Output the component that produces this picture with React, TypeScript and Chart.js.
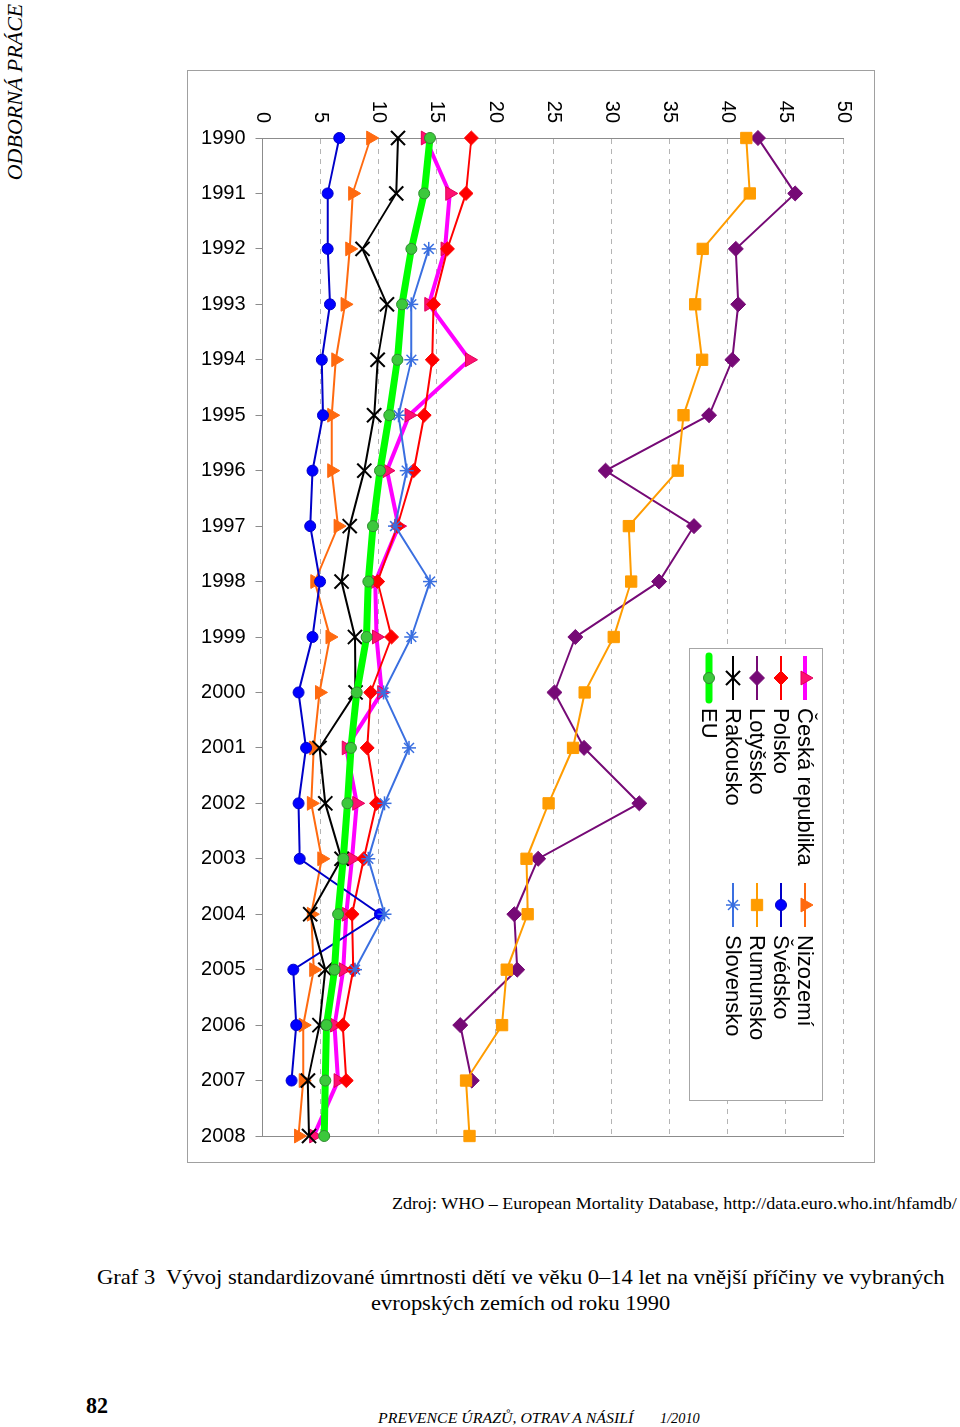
import React, { useEffect, useLayoutEffect, useRef, useState } from 'react';
import { Chart, registerables } from 'chart.js';
import { drawPoint } from 'chart.js/helpers';

Chart.register(...registerables);

// ---------- DATA ----------
const years = ['1990', '1991', '1992', '1993', '1994', '1995', '1996', '1997', '1998', '1999',
  '2000', '2001', '2002', '2003', '2004', '2005', '2006', '2007', '2008'];

const ceskaRepublika = [14.0, 16.1, 15.7, 14.3, 17.8, 12.6, 10.7, 11.7, 9.7, 9.8, 10.25, 7.2, 8.1, 7.7, 7.2, 6.95, 6.2, 6.5, 4.4];
const nizozemi = [9.3, 7.75, 7.5, 7.1, 6.3, 5.95, 5.95, 6.5, 4.5, 5.8, 4.9, 4.4, 4.2, 5.1, 4.2, 4.4, 3.5, 3.5, 3.1];
const polsko = [17.96, 17.5, 15.9, 14.7, 14.6, 13.9, 13.0, 11.6, 9.9, 11.1, 9.3, 9.0, 9.8, 8.7, 7.7, 7.8, 6.9, 7.2, null];
const svedsko = [6.6, 5.6, 5.6, 5.8, 5.1, 5.2, 4.3, 4.1, 4.95, 4.3, 3.1, 3.75, 3.1, 3.2, 10.1, 2.65, 2.9, 2.5, null];
const lotyssko = [42.6, 45.8, 40.7, 40.9, 40.4, 38.4, 29.5, 37.1, 34.1, 26.9, 25.1, 27.65, 32.4, 23.7, 21.65, 21.9, 17.0, 18.0, null];
const rumunsko = [41.6, 41.9, 37.85, 37.2, 37.8, 36.2, 35.7, 31.5, 31.7, 30.2, 27.7, 26.7, 24.6, 22.7, 22.8, 21.0, 20.6, 17.5, 17.8];
const rakousko = [11.65, 11.5, 8.6, 10.7, 9.9, 9.6, 8.75, 7.5, 6.8, 7.95, 8.0, 4.9, 5.4, 6.8, 4.1, 5.4, 4.9, 3.9, 4.0];
const slovensko = [null, null, 14.3, 12.8, 12.8, 11.7, 12.4, 11.4, 14.4, 12.8, 10.4, 12.6, 10.5, 9.1, 10.5, 7.95, null, null, null];
const eu = [14.4, 13.9, 12.8, 12.0, 11.6, 10.9, 10.1, 9.5, 9.1, 8.95, 8.1, 7.6, 7.3, 6.95, 6.5, 6.2, 5.5, 5.4, 5.3];

const valueMin = 0;
const valueMax = 50;
const valueStep = 5;

const seriesNames = ['Česká republika', 'Nizozemí', 'Polsko', 'Švédsko', 'Lotyšsko', 'Rumunsko', 'Rakousko', 'Slovensko', 'EU'];
const seriesValues = [ceskaRepublika, nizozemi, polsko, svedsko, lotyssko, rumunsko, rakousko, slovensko, eu];

// ---------- STYLES ----------
type Style = { line: string; width: number; pointStyle: string; radius: number; bg: string; border: string; bw: number };
const styles: Style[] = [
  { line: '#FF00FF', width: 4, pointStyle: 'triangle', radius: 8, bg: '#FF1070', border: '#E0005A', bw: 1 },
  { line: '#FF6A10', width: 2, pointStyle: 'triangle', radius: 8, bg: '#FF6A10', border: '#FF6A10', bw: 1 },
  { line: '#FF0000', width: 2, pointStyle: 'rectRot', radius: 7, bg: '#FF0000', border: '#FF0000', bw: 1 },
  { line: '#0000C8', width: 2, pointStyle: 'circle', radius: 5.5, bg: '#0000FF', border: '#0000C8', bw: 1 },
  { line: '#760A76', width: 2, pointStyle: 'rectRot', radius: 7.5, bg: '#760A76', border: '#760A76', bw: 1 },
  { line: '#FF9C00', width: 2, pointStyle: 'rect', radius: 8, bg: '#FF9C00', border: '#FF9C00', bw: 1 },
  { line: '#000000', width: 2, pointStyle: 'crossRot', radius: 10, bg: '#000000', border: '#000000', bw: 2 },
  { line: '#3A6FE0', width: 2, pointStyle: 'star', radius: 7, bg: '#3A6FE0', border: '#3A6FE0', bw: 1.5 },
  { line: '#00FF00', width: 7, pointStyle: 'circle', radius: 5.5, bg: '#3CC83C', border: '#2E8B2E', bw: 1 },
];

// legend arrangement (index into series), column-major as in the reference
const legendColumns = [[0, 2, 4, 6, 8], [1, 3, 5, 7]];

const FONT_SANS = '"Liberation Sans", Arial, Helvetica, sans-serif';
const FONT_SERIF = '"Liberation Serif", "Times New Roman", serif';

// canvas (unrotated) size
const CW = 1091;
const CH = 686;

const legendPlugin = {
  id: 'customLegend',
  afterDraw(chart: any) {
    const ctx = chart.ctx as CanvasRenderingContext2D;
    ctx.save();
    const bx = 577, by = 51, bw = 452, bh = 133;
    ctx.fillStyle = '#ffffff';
    ctx.fillRect(bx, by, bw, bh);
    ctx.strokeStyle = '#a6a6a6';
    ctx.lineWidth = 1;
    ctx.strokeRect(bx + 0.5, by + 0.5, bw, bh);
    const colX = [607, 834];
    const rowY0 = 69;
    const rowStep = 24;
    ctx.font = `22px ${FONT_SANS}`;
    ctx.textBaseline = 'middle';
    ctx.textAlign = 'left';
    legendColumns.forEach((col, ci) => {
      col.forEach((si, ri) => {
        const st = styles[si];
        const cx = colX[ci];
        const cy = rowY0 + ri * rowStep;
        ctx.save();
        ctx.strokeStyle = st.line;
        ctx.lineWidth = st.width;
        ctx.lineCap = st.width > 5 ? 'round' : 'butt';
        ctx.beginPath();
        ctx.moveTo(cx - 22, cy);
        ctx.lineTo(cx + 22, cy);
        ctx.stroke();
        ctx.restore();
        ctx.save();
        ctx.fillStyle = st.bg;
        ctx.strokeStyle = st.border;
        ctx.lineWidth = st.bw;
        drawPoint(ctx, { pointStyle: st.pointStyle as any, radius: st.radius, rotation: 0, borderWidth: st.bw }, cx, cy);
        ctx.restore();
        ctx.fillStyle = '#000000';
        ctx.fillText(seriesNames[si], cx + 30, cy + 1);
      });
    });
    ctx.restore();
  },
};

function FitText(props: { text: string; left: number; cy: number; width: number; font: string }) {
  const ref = useRef<HTMLSpanElement>(null);
  const [scale, setScale] = useState(1);
  useLayoutEffect(() => {
    if (ref.current) {
      const w = ref.current.offsetWidth;
      if (w > 0) setScale(props.width / w);
    }
  }, [props.text, props.width, props.font]);
  return (
    <span
      ref={ref}
      style={{
        position: 'absolute',
        left: props.left,
        top: props.cy,
        whiteSpace: 'pre',
        font: props.font,
        lineHeight: 1,
        color: '#000',
        transformOrigin: '0 50%',
        transform: `translateY(-50%) scaleX(${scale})`,
      }}
    >
      {props.text}
    </span>
  );
}

function ChartCanvas() {
  const canvasRef = useRef<HTMLCanvasElement>(null);
  useEffect(() => {
    if (!canvasRef.current) return;
    const n = seriesValues.length;
    const datasets = seriesValues.map((vals, i) => {
      const st = styles[i];
      return {
        label: seriesNames[i],
        data: vals,
        borderColor: st.line,
        borderWidth: st.width,
        backgroundColor: st.bg,
        pointStyle: st.pointStyle,
        pointRadius: st.radius,
        pointBackgroundColor: st.bg,
        pointBorderColor: st.border,
        pointBorderWidth: st.bw,
        tension: 0,
        fill: false,
        clip: false,
        borderJoinStyle: 'round',
        order: n - 1 - i,
      };
    });
    const chart = new Chart(canvasRef.current, {
      type: 'line',
      data: { labels: years, datasets: datasets as any },
      options: {
        responsive: false,
        animation: false,
        devicePixelRatio: 1,
        layout: { padding: { top: 30, right: 26, left: 0, bottom: 0 } },
        plugins: { legend: { display: false }, tooltip: { enabled: false } },
        scales: {
          x: {
            type: 'category',
            offset: false,
            grid: {
              display: true,
              drawOnChartArea: true,
              drawTicks: true,
              tickLength: 7,
              tickColor: '#8c8c8c',
              color: (c: any) => (c.index === years.length - 1 ? '#8c8c8c' : 'rgba(0,0,0,0)'),
            },
            border: { display: true, color: '#8c8c8c', width: 1 },
            ticks: {
              autoSkip: false,
              minRotation: 90,
              maxRotation: 90,
              padding: 10,
              color: '#000',
              font: { family: FONT_SANS, size: 20 },
            },
            afterFit: (s: any) => { s.height = 74.5; s.paddingLeft = 0; s.paddingRight = 0; },
          },
          y: {
            min: valueMin,
            max: valueMax,
            ticks: {
              stepSize: valueStep,
              padding: 15,
              color: '#000',
              font: { family: FONT_SANS, size: 20 },
            },
            grid: {
              drawTicks: false,
              color: (c: any) => (c.tick && c.tick.value === 0 ? 'rgba(0,0,0,0)' : '#b4b4b4'),
              lineWidth: 1,
            },
            border: { display: true, color: '#8c8c8c', width: 1, dash: [5, 5] },
            afterFit: (s: any) => { s.width = 67; s.paddingTop = 0; s.paddingBottom = 0; },
          },
        },
      } as any,
      plugins: [legendPlugin],
    });
    return () => chart.destroy();
  }, []);
  return (
    <canvas
      ref={canvasRef}
      width={CW}
      height={CH}
      style={{
        position: 'absolute',
        left: 0,
        top: 0,
        width: CW,
        height: CH,
        transformOrigin: '0 0',
        transform: `translate(${CH}px, 0px) rotate(90deg)`,
      }}
    />
  );
}

export default function App() {
  return (
    <div style={{ position: 'absolute', left: 0, top: 0, width: 960, height: 1427, background: '#fff', overflow: 'hidden' }}>
      <div
        style={{
          position: 'absolute',
          left: 15,
          top: 92,
          whiteSpace: 'pre',
          font: `italic 22px ${FONT_SERIF}`,
          lineHeight: 1,
          color: '#000',
          transform: 'translate(-50%, -50%) rotate(-90deg)',
        }}
      >
        ODBORNÁ PRÁCE
      </div>
      <div
        style={{
          position: 'absolute',
          left: 187,
          top: 70,
          width: CH,
          height: CW,
          border: '1px solid #a0a0a0',
          overflow: 'hidden',
        }}
      >
        <ChartCanvas />
      </div>
      <FitText text="Zdroj: WHO – European Mortality Database, http://data.euro.who.int/hfamdb/" left={392} cy={1204} width={565} font={`16px ${FONT_SERIF}`} />
      <FitText text="Graf 3  Vývoj standardizované úmrtnosti dětí ve věku 0–14 let na vnější příčiny ve vybraných" left={97} cy={1277} width={847} font={`22px ${FONT_SERIF}`} />
      <FitText text="evropských zemích od roku 1990" left={371} cy={1303} width={299} font={`22px ${FONT_SERIF}`} />
      <FitText text="82" left={86} cy={1405} width={22} font={`bold 24px ${FONT_SERIF}`} />
      <FitText text="PREVENCE ÚRAZŮ, OTRAV A NÁSILÍ" left={378} cy={1418} width={255} font={`italic 15px ${FONT_SERIF}`} />
      <FitText text="1/2010" left={660} cy={1418} width={40} font={`italic 15px ${FONT_SERIF}`} />
    </div>
  );
}
